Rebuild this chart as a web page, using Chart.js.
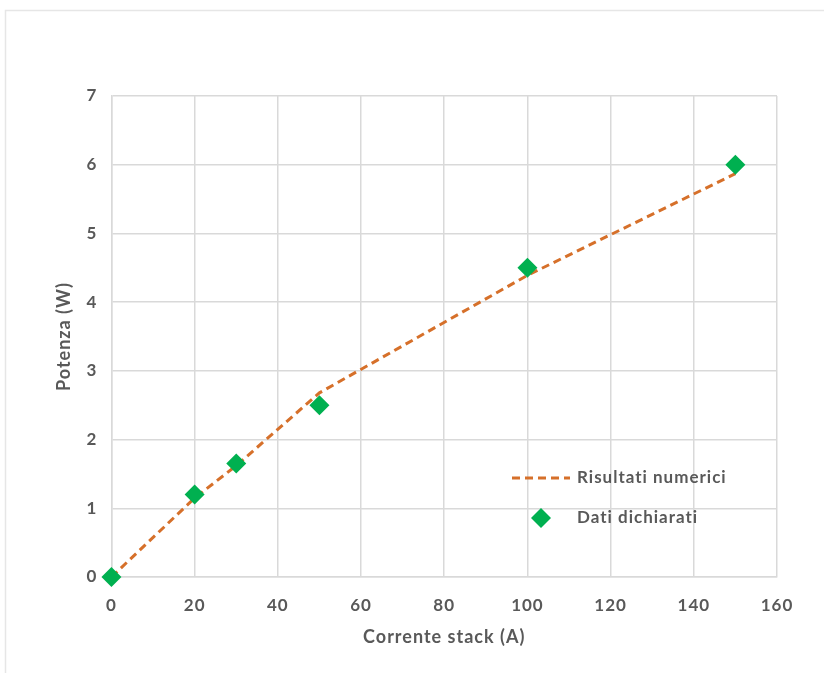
<!DOCTYPE html>
<html>
<head>
<meta charset="utf-8">
<script src="https://cdn.jsdelivr.net/npm/chart.js@4.4.1/dist/chart.umd.min.js"></script>
<style>
  html, body { margin: 0; padding: 0; background: #ffffff; }
  #wrap { position: relative; width: 824px; height: 673px; }
</style>
</head>
<body>
<div id="wrap"><canvas id="chart" width="824" height="673"></canvas></div>
<script>
// Stack current (A) vs power (W)
const currentNumeric = [0, 20, 30, 50, 100, 150];
const powerNumeric = [0, 1.15, 1.62, 2.68, 4.39, 5.87];

const currentDeclared = [0, 20, 30, 50, 100, 150];
const powerDeclared = [0, 1.2, 1.65, 2.5, 4.5, 6];

const labelNumeric = 'Risultati numerici';
const labelDeclared = 'Dati dichiarati';
const xTitle = 'Corrente stack (A)';
const yTitle = 'Potenza (W)';

const xMin = 0, xMax = 160, xStep = 20;
const yMin = 0, yMax = 7, yStep = 1;

const toPoints = (xs, ys) => xs.map((x, i) => ({ x: x, y: ys[i] }));

const lineColor = '#d6702a';
const markerColor = '#00b050';
const gridColor = '#d9d9d9';
const textColor = '#595959';
const fontFamily = 'Lato, "Open Sans", "Liberation Sans", sans-serif';

// Outer frame and slightly spaced lettering
const framePlugin = {
  id: 'frame',
  beforeDraw(chart) {
    const ctx = chart.ctx;
    ctx.save();
    ctx.fillStyle = '#ffffff';
    ctx.fillRect(0, 0, chart.width, chart.height);
    ctx.strokeStyle = '#e6e6e6';
    ctx.lineWidth = 1.5;
    ctx.strokeRect(5.5, 10.5, chart.width + 20, chart.height + 20);
    ctx.restore();
    ctx.letterSpacing = '1px';
  }
};

// Legend drawn inside the plot area, lower right
const insideLegend = {
  id: 'insideLegend',
  afterDatasetsDraw(chart) {
    const ctx = chart.ctx;
    const ds = chart.data.datasets;
    const x0 = 512, textX = 577;
    const rows = [478, 518];
    ctx.save();
    ctx.letterSpacing = '1px';
    ctx.font = 'bold 17px ' + fontFamily;
    ctx.fillStyle = textColor;
    ctx.textBaseline = 'middle';
    ctx.textAlign = 'left';
    // dashed line sample
    ctx.strokeStyle = ds[0].borderColor;
    ctx.lineWidth = ds[0].borderWidth;
    ctx.setLineDash(ds[0].borderDash);
    ctx.beginPath();
    ctx.moveTo(x0, rows[0]);
    ctx.lineTo(x0 + 58, rows[0]);
    ctx.stroke();
    ctx.setLineDash([]);
    ctx.fillText(ds[0].label, textX, rows[0]);
    // diamond marker sample
    const cx = x0 + 29, cy = rows[1], r = ds[1].pointRadius;
    ctx.fillStyle = ds[1].pointBackgroundColor;
    ctx.beginPath();
    ctx.moveTo(cx, cy - r);
    ctx.lineTo(cx + r, cy);
    ctx.lineTo(cx, cy + r);
    ctx.lineTo(cx - r, cy);
    ctx.closePath();
    ctx.fill();
    ctx.fillStyle = textColor;
    ctx.fillText(ds[1].label, textX, rows[1]);
    ctx.restore();
  }
};

new Chart(document.getElementById('chart'), {
  type: 'scatter',
  data: {
    datasets: [
      {
        label: labelNumeric,
        data: toPoints(currentNumeric, powerNumeric),
        showLine: true,
        borderColor: lineColor,
        borderWidth: 3,
        borderDash: [8, 5],
        pointRadius: 0,
        pointHoverRadius: 0,
        fill: false,
        clip: false,
        order: 2
      },
      {
        label: labelDeclared,
        data: toPoints(currentDeclared, powerDeclared),
        showLine: false,
        pointStyle: 'rectRot',
        pointRadius: 10,
        pointBackgroundColor: markerColor,
        pointBorderColor: markerColor,
        pointBorderWidth: 0,
        clip: false,
        order: 1
      }
    ]
  },
  options: {
    responsive: false,
    animation: false,
    devicePixelRatio: 1,
    layout: { padding: { left: 49, right: 47, top: 96, bottom: 21 } },
    plugins: {
      legend: { display: false },
      tooltip: { enabled: false }
    },
    scales: {
      x: {
        type: 'linear',
        min: xMin,
        max: xMax,
        ticks: { stepSize: xStep, color: textColor, font: { family: fontFamily, size: 17, weight: 'bold' }, padding: 18 },
        grid: { color: gridColor, lineWidth: 1.5, drawTicks: false },
        border: { color: gridColor, width: 1.5 },
        title: { display: true, text: xTitle, color: textColor, font: { family: fontFamily, size: 18, weight: 'bold' }, padding: { top: -7 } }
      },
      y: {
        type: 'linear',
        min: yMin,
        max: yMax,
        ticks: { stepSize: yStep, color: textColor, font: { family: fontFamily, size: 17, weight: 'bold' }, padding: 14 },
        grid: { color: gridColor, lineWidth: 1.5, drawTicks: false },
        border: { color: gridColor, width: 1.5 },
        title: { display: true, text: yTitle, color: textColor, font: { family: fontFamily, size: 18, weight: 'bold' }, padding: { bottom: -1 } }
      }
    }
  },
  plugins: [framePlugin, insideLegend]
});
</script>
</body>
</html>
